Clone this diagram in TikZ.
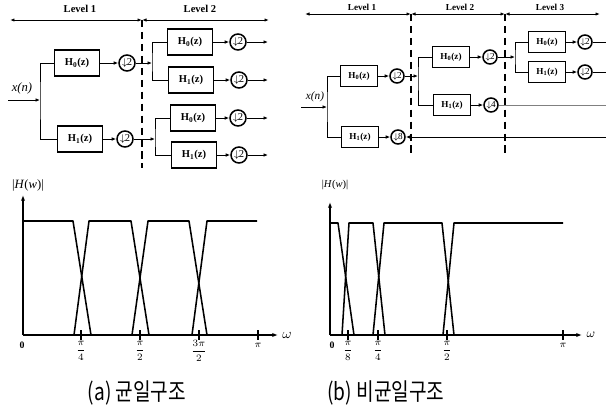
\documentclass[tikz,border=0pt]{standalone}
\usepackage{fontspec}
\usepackage{amsmath}
\usetikzlibrary{arrows.meta}
\setmainfont{Liberation Serif}
\newfontfamily\krfont{Noto Sans CJK KR}
\tikzset{
  filt/.style={draw, line width=1.1pt, minimum width=1.125cm, minimum height=0.65cm,
               inner sep=0pt, font=\fontsize{7.5}{8}\selectfont\bfseries},
  filtb/.style={filt, minimum width=0.925cm, minimum height=0.525cm,
                font=\fontsize{6.5}{7}\selectfont\bfseries},
  dec/.style={circle, draw, line width=1.1pt, minimum size=0.4cm, inner sep=0pt,
              font=\fontsize{7.5}{7.5}\selectfont},
  decb/.style={dec, minimum size=0.35cm, font=\fontsize{6.5}{6.5}\selectfont},
  sig/.style={-{Latex[length=3.2pt,width=2.6pt]}, line width=0.7pt},
  wire/.style={line width=0.7pt},
  lvl/.style={{Latex[length=3.2pt,width=2.4pt]}-{Latex[length=3.2pt,width=2.4pt]}, line width=0.7pt},
  lvltext/.style={font=\fontsize{7.5}{8}\selectfont\bfseries},
  divider/.style={line width=1.3pt, dash pattern=on 5pt off 3.5pt},
  axis/.style={line width=1pt},
  resp/.style={line width=1.1pt, line join=round},
  tick/.style={font=\fontsize{7}{7}\selectfont\bfseries},
}
\newcommand{\hz}[1]{H\textsubscript{#1}(z)}
\newcommand{\dn}[1]{$\downarrow$\hspace{-0.5pt}#1}

\begin{document}
\begin{tikzpicture}[x=0.025cm, y=-0.025cm]
    \useasboundingbox (0,0) rectangle (606,417);
    % (a) uniform tree
    \coordinate (al0) at (10,20);
    \coordinate (al1) at (142,20);
    \coordinate (al2) at (269,20);
    \draw[lvl] (al0) -- (al1);
    \draw[lvl] (al1) -- (al2);
    \node[lvltext] (alv1) at (80,9) {Level 1};
    \node[lvltext] (alv2) at (200,9) {Level 2};
    \draw[divider] (al1) -- (142,168);
    \node[font=\fontsize{9}{9}\selectfont\itshape] (axn) at (22,88) {x(n)};
    \coordinate (ain) at (8,100);
    \coordinate (ab) at (40,100);
    \node[filt] (ah0) at (77,63) {\hz{0}};
    \node[filt] (ah1) at (80,139) {\hz{1}};
    \node[dec] (ad0) at (127,63) {\dn{2}};
    \node[dec] (ad1) at (125,139) {\dn{2}};
    \draw[sig] (ain) -- (ab);
    \draw[wire] (ah0.west) -| (ab) |- (ah1.west);
    \draw[sig] (ah0) -- (ad0);
    \draw[sig] (ah1) -- (ad1);
    \coordinate (ab0) at (152,63);
    \coordinate (ab1) at (155,139);
    \draw[sig] (ad0) -- (ab0);
    \draw[sig] (ad1) -- (ab1);
    \node[filt] (ah00) at (190,42) {\hz{0}};
    \node[filt] (ah01) at (191,80) {\hz{1}};
    \node[filt] (ah10) at (193,118) {\hz{0}};
    \node[filt] (ah11) at (194,155) {\hz{1}};
    \draw[wire] (ah00.west) -| (ab0) |- (ah01.west);
    \draw[wire] (ah10.west) -| (ab1) |- (ah11.west);
    \node[dec] (ad00) at (238,42) {\dn{2}};
    \node[dec] (ad01) at (239,80) {\dn{2}};
    \node[dec] (ad10) at (238,118) {\dn{2}};
    \node[dec] (ad11) at (239,155) {\dn{2}};
    \foreach \n/\y in {00/42,01/80,10/118,11/155} {
      \coordinate (ao\n) at (268,\y);
      \draw[sig] (ah\n) -- (ad\n);
      \draw[sig] (ad\n) -- (ao\n);
    }
    % (b) non-uniform tree
    \coordinate (bl0) at (305,14);
    \coordinate (bl1) at (411,14);
    \coordinate (bl2) at (505,14);
    \coordinate (bl3) at (600,14);
    \draw[lvl] (bl0) -- (bl1);
    \draw[lvl] (bl1) -- (bl2);
    \draw[lvl] (bl2) -- (bl3);
    \node[lvltext, font=\fontsize{6.5}{7}\selectfont\bfseries] (blv1) at (362,7) {Level 1};
    \node[lvltext, font=\fontsize{6.5}{7}\selectfont\bfseries] (blv2) at (460,7) {Level 2};
    \node[lvltext, font=\fontsize{6.5}{7}\selectfont\bfseries] (blv3) at (550,7) {Level 3};
    \draw[divider] (bl1) -- (411,155);
    \draw[divider] (bl2) -- (505,155);
    \node[font=\fontsize{8}{8}\selectfont\itshape] (bxn) at (315,97) {x(n)};
    \coordinate (bin) at (301,107);
    \coordinate (bb) at (327,107);
    \node[filtb] (bh0) at (359,76) {\hz{0}};
    \node[filtb] (bh1) at (360,137) {\hz{1}};
    \node[decb] (bd0) at (397,76) {\dn{2}};
    \node[decb] (bd1) at (398,137) {\dn{8}};
    \draw[sig] (bin) -- (bb);
    \draw[wire] (bh0.west) -| (bb) |- (bh1.west);
    \draw[sig] (bh0) -- (bd0);
    \draw[sig] (bh1) -- (bd1);
    \coordinate (bo1) at (606,137);
    \draw[sig] (bo1) -- (bd1);
    \coordinate (bb0) at (418,76);
    \draw[sig] (bd0) -- (bb0);
    \node[filtb] (bh00) at (451,57) {\hz{0}};
    \node[filtb] (bh01) at (452,105) {\hz{1}};
    \draw[wire] (bh00.west) -| (bb0) |- (bh01.west);
    \node[decb] (bd00) at (490,57) {\dn{2}};
    \node[decb] (bd01) at (491,105) {\dn{4}};
    \draw[sig] (bh00) -- (bd00);
    \draw[sig] (bh01) -- (bd01);
    \coordinate (bo01) at (606,105);
    \draw[wire, gray] (bd01) -- (bo01);
    \coordinate (bb00) at (515,57);
    \draw[sig] (bd00) -- (bb00);
    \node[filtb] (bh000) at (547,42) {\hz{0}};
    \node[filtb] (bh001) at (547,72) {\hz{1}};
    \draw[wire] (bh000.west) -| (bb00) |- (bh001.west);
    \node[decb] (bd000) at (585,42) {\dn{2}};
    \node[decb] (bd001) at (585,72) {\dn{2}};
    \coordinate (bo000) at (606,42);
    \coordinate (bo001) at (606,72);
    \draw[sig] (bh000) -- (bd000);
    \draw[sig] (bh001) -- (bd001);
    \draw[wire] (bd000) -- (bo000);
    \draw[wire] (bd001) -- (bo001);
    % (a) magnitude responses
    \draw[axis, -{Latex[length=4pt,width=3pt]}] (23,335) -- (23,195);
    \draw[axis, -{Latex[length=4pt,width=3pt]}] (23,335) -- (278,335);
    \node[font=\fontsize{9}{9}\selectfont] (ahw) at (28,185) {|\textit{H}(\textit{w})|};
    \node[font=\fontsize{10}{10}\selectfont] (aom) at (287,335) {$\omega$};
    \draw[resp] (23,221) -- (73,221) -- (91,335);
    \draw[resp] (74,335) -- (89,221) -- (131,221) -- (149,335);
    \draw[resp] (132,335) -- (148,221) -- (189,221) -- (207,335);
    \draw[resp] (192,335) -- (207,221) -- (257,221);
    \foreach \x in {81,140,199,258} \draw[axis] (\x,330) -- (\x,340);
    \node[tick] (at0) at (22,345) {0};
    \node[tick] (at1) at (81,351) {$\displaystyle\frac{\pi}{4}$};
    \node[tick] (at2) at (140,351) {$\displaystyle\frac{\pi}{2}$};
    \node[tick] (at3) at (199,351) {$\displaystyle\frac{3\pi}{2}$};
    \node[tick] (at4) at (258,345) {$\pi$};
    % (b) magnitude responses
    \draw[axis, -{Latex[length=4pt,width=3pt]}] (330,335) -- (330,202);
    \draw[axis, -{Latex[length=4pt,width=3pt]}] (330,335) -- (582,335);
    \node[font=\fontsize{7.5}{8}\selectfont] (bhw) at (335,185) {|\textit{H}(\textit{w})|};
    \node[font=\fontsize{9}{9}\selectfont] (bom) at (591,335) {$\omega$};
    \draw[resp] (330,223) -- (338,223) -- (354,335);
    \draw[resp] (342,335) -- (349,223) -- (373,223) -- (385,335);
    \draw[resp] (373,335) -- (384,223) -- (442,223) -- (454,335);
    \draw[resp] (443,335) -- (454,223) -- (563,223);
    \foreach \x in {348,378,447,563} \draw[axis] (\x,330) -- (\x,340);
    \node[tick] (bt0) at (332,345) {0};
    \node[tick] (bt1) at (348,351) {$\displaystyle\frac{\pi}{8}$};
    \node[tick] (bt2) at (378,351) {$\displaystyle\frac{\pi}{4}$};
    \node[tick] (bt3) at (447,351) {$\displaystyle\frac{\pi}{2}$};
    \node[tick] (bt4) at (563,345) {$\pi$};
    % captions
    \node[font=\fontsize{17}{17}\krfont, xscale=0.8] (capa) at (137,393) {(a) 균일구조};
    \node[font=\fontsize{17}{17}\krfont, xscale=0.8] (capb) at (386,393) {(b) 비균일구조};
\end{tikzpicture}
\end{document}
